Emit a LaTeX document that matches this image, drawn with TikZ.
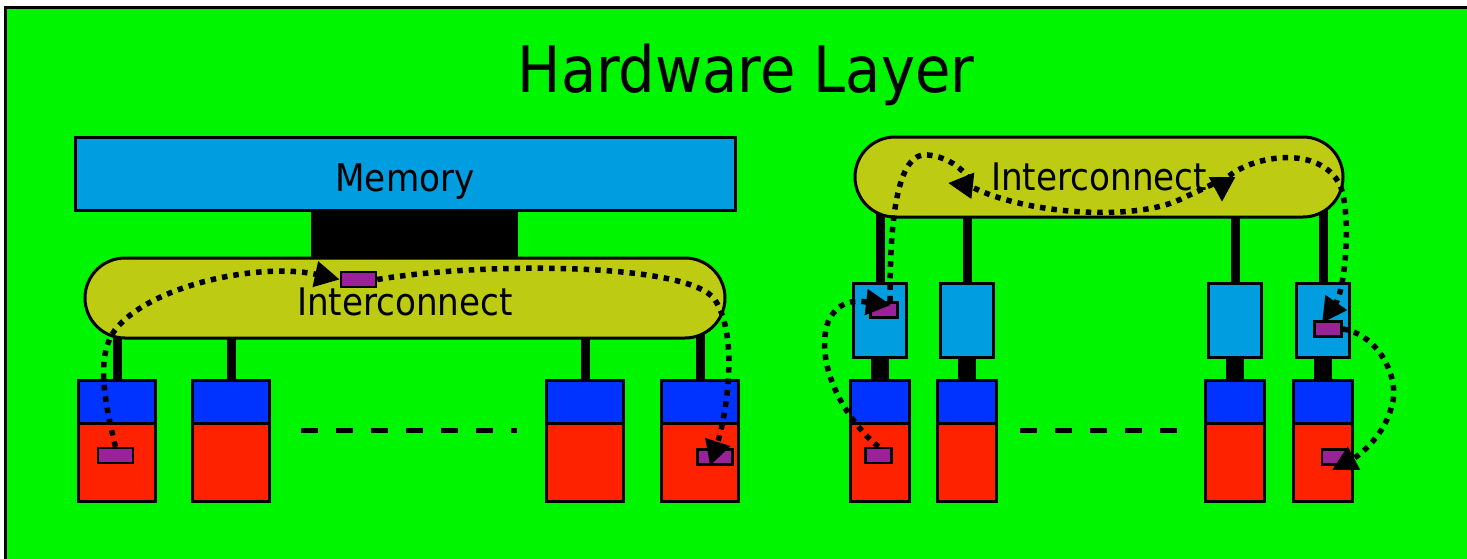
\documentclass[tikz,border=0pt]{standalone}
\usepackage{fontspec}
\setmainfont{DejaVu Sans Condensed}
\usetikzlibrary{arrows.meta}

\definecolor{hwgreen}{RGB}{0,245,0}
\definecolor{memblue}{RGB}{0,158,224}
\definecolor{busolive}{RGB}{189,204,18}
\definecolor{coreblue}{RGB}{0,51,255}
\definecolor{ramred}{RGB}{255,34,0}
\definecolor{pktpurple}{RGB}{153,34,153}

\begin{document}
\begin{tikzpicture}[x=1pt,y=-1pt,
    box/.style={draw,line width=3pt,inner sep=0pt},
    memory/.style={box,fill=memblue,minimum width=660pt,minimum height=73pt,
      text height=35pt,text depth=0pt,font=\fontsize{38}{40}\selectfont},
    bus/.style={box,fill=busolive,rounded corners=40pt,minimum height=80pt,
      font=\fontsize{38}{40}\selectfont},
    lcore/.style={box,fill=coreblue,minimum width=77pt,minimum height=43pt},
    lram/.style={box,fill=ramred,minimum width=77pt,minimum height=77.5pt},
    rcore/.style={box,fill=coreblue,minimum width=59pt,minimum height=43pt},
    rram/.style={box,fill=ramred,minimum width=59pt,minimum height=77.5pt},
    cache/.style={box,fill=memblue,minimum width=53pt,minimum height=74.5pt},
    packet/.style={box,line width=2.5pt,fill=pktpurple,minimum height=15pt},
    stub/.style={line width=9pt},
    link/.style={line width=18pt},
    etc/.style={line width=5.5pt,dash pattern=on 17pt off 18pt},
    msg/.style={line width=5.5pt,dash pattern=on 5.5pt off 6pt,
      -{Triangle[length=25pt,width=25pt]}}]

  \useasboundingbox (0,0) rectangle (1467,558);
  \draw[line width=3pt,fill=hwgreen] (5,7) rectangle (1490,580);

  \node[font=\fontsize{64}{70}\selectfont,anchor=base] (title) at (746,92) {Hardware Layer};

  % shared memory machine
  \fill (311,205) rectangle (518,298);
  \node[memory] (mem) at (405,173.5) {Memory};
  \coordinate (icLc) at (405,298);

  \node[lcore] (lcore1) at (117,402) {};
  \node[lram] (lram1) at (117,462.25) {};
  \node[lcore] (lcore2) at (231,402) {};
  \node[lram] (lram2) at (231,462.25) {};
  \node[lcore] (lcore3) at (585,402) {};
  \node[lram] (lram3) at (585,462.25) {};
  \node[lcore] (lcore4) at (700,402) {};
  \node[lram] (lram4) at (700,462.25) {};

  \draw[stub] (lcore1.north) -- (lcore1.north |- icLc);
  \draw[stub] (lcore2.north) -- (lcore2.north |- icLc);
  \draw[stub] (lcore3.north) -- (lcore3.north |- icLc);
  \draw[stub] (lcore4.north) -- (lcore4.north |- icLc);
  \node[bus,minimum width=640pt,text height=35pt,text depth=0pt] (icL) at (icLc) {Interconnect};

  \draw[etc] (301,430.5) -- (517,430.5);

  \node[packet,minimum width=35pt] (lpk1) at (115.5,455.5) {};
  \node[packet,minimum width=35pt] (lpkbus) at (358.5,279.5) {};
  \node[packet,minimum width=35pt] (lpk4) at (715,457) {};

  % distributed memory machine
  \coordinate (icRc) at (1099,177);

  \node[cache] (cache1) at (880,320.25) {};
  \node[cache] (cache2) at (967,320.25) {};
  \node[cache] (cache3) at (1235,320.25) {};
  \node[cache] (cache4) at (1323,320.25) {};
  \node[rcore] (rcore1) at (880,402) {};
  \node[rram] (rram1) at (880,462.25) {};
  \node[rcore] (rcore2) at (967,402) {};
  \node[rram] (rram2) at (967,462.25) {};
  \node[rcore] (rcore3) at (1235,402) {};
  \node[rram] (rram3) at (1235,462.25) {};
  \node[rcore] (rcore4) at (1323,402) {};
  \node[rram] (rram4) at (1323,462.25) {};

  \draw[stub] (cache1.north) -- (cache1.north |- icRc);
  \draw[stub] (cache2.north) -- (cache2.north |- icRc);
  \draw[stub] (cache3.north) -- (cache3.north |- icRc);
  \draw[stub] (cache4.north) -- (cache4.north |- icRc);
  \draw[link] (cache1.south) -- (rcore1.north);
  \draw[link] (cache2.south) -- (rcore2.north);
  \draw[link] (cache3.south) -- (rcore3.north);
  \draw[link] (cache4.south) -- (rcore4.north);
  \node[bus,minimum width=488pt] (icR) at (icRc) {Interconnect};

  \draw[etc] (1020,430.5) -- (1179,430.5);

  \node[packet,minimum width=27pt] (rpkc1) at (884,310) {};
  \node[packet,minimum width=26pt] (rpku1) at (878.5,455.5) {};
  \node[packet,minimum width=27pt] (rpkc4) at (1328,329) {};
  \node[packet,minimum width=26pt] (rpku4) at (1335,457) {};

  \coordinate (tipL) at (948,183);
  \coordinate (baseL) at (974,188);
  \coordinate (tipR) at (1222,202);
  \coordinate (baseR) at (1229,176);

  % message paths
  \draw[msg] (lpk1.north) .. controls (104,400) and (96,355) .. (115,330)
    .. controls (150,285) and (260,262) .. (lpkbus.west);
  \draw[msg] (lpkbus.east) .. controls (480,262) and (690,262) .. (715,300)
    .. controls (740,338) and (725,420) .. ([xshift=-5pt]lpk4.south);

  \draw[msg] (rpku1.north) .. controls (840,415) and (815,360) .. (828,322)
    .. controls (840,295) and (865,302) .. ([xshift=7pt,yshift=5pt]rpkc1.center);
  \draw[msg] ([xshift=6pt]rpkc1.north) .. controls (890,240) and (893,150) .. (928,155)
    .. controls (960,158) and (975,186) .. (tipL);
  \draw[msg] (baseL) .. controls (1030,215) and (1140,222) .. (1185,197)
    .. controls (1205,188) and (1222,180) .. (tipR);
  \draw[msg] (baseR) .. controls (1255,155) and (1320,145) .. (1340,185)
    .. controls (1352,215) and (1345,290) .. ([xshift=-6pt,yshift=6pt]rpkc4.center);
  \draw[msg] (rpkc4.east) .. controls (1380,335) and (1400,380) .. (1392,405)
    .. controls (1385,435) and (1360,455) .. ([xshift=-3pt,yshift=-13pt]rpku4.center);
\end{tikzpicture}
\end{document}
